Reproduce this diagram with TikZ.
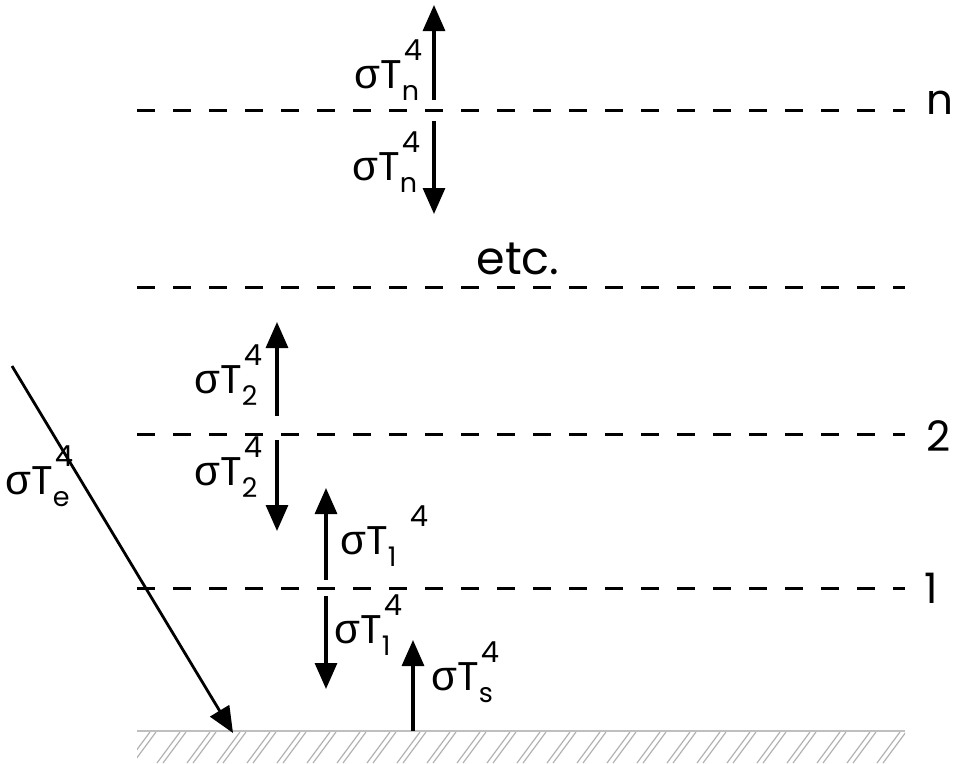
\documentclass[tikz,border=0pt]{standalone}
\usepackage{fontspec}
\setmainfont{Poppins}
\newfontfamily\greekfont{Liberation Sans}
\usetikzlibrary{arrows.meta,positioning}
\tikzset{
	layer/.style={draw=black, line width=3pt, dash pattern=on 18pt off 18pt},
	flux/.style={draw=black, line width=3.2pt, -{Triangle[width=22pt,length=26pt]}},
	lbl/.style={font=\fontsize{40}{44}\selectfont, inner sep=0pt},
	ground/.style={draw=black!25, line width=1.5pt},
	hatch/.style={draw=black!30, line width=1.2pt},
}
% sigma T_sub^4, optional shift of the 4
\newcommand{\sT}[2][2pt]{{\greekfont\fontsize{42}{44}\selectfont σ}T\makebox[0pt][l]{\raisebox{-0.3em}{\fontsize{27}{27}\selectfont #2}}\kern#1\raisebox{0.68em}{\fontsize{29}{29}\selectfont 4}}

\begin{document}
\begin{tikzpicture}[x=1pt,y=-1pt]
\useasboundingbox (0,0) rectangle (953,763);

% layers
\coordinate (nL) at (137,110);  \coordinate (nR) at (905,110);
\coordinate (eL) at (137,287);  \coordinate (eR) at (905,287);
\coordinate (tL) at (137,434);  \coordinate (tR) at (905,434);
\coordinate (oL) at (137,588);  \coordinate (oR) at (905,588);
\coordinate (gL) at (137,731);  \coordinate (gR) at (905,731);
\draw[layer] (nL) -- (nR);
\draw[layer] (eL) -- (eR);
\draw[layer] (tL) -- (tR);
\draw[layer] (oL) -- (oR);
\node[lbl,font=\fontsize{42}{44}\selectfont] (nlab) at (940,103) {n};
\node[lbl,font=\fontsize{42}{44}\selectfont] (tlab) at (939,436) {2};
\node[lbl,font=\fontsize{42}{44}\selectfont] (olab) at (931,588) {1};
\node[lbl,font=\fontsize{46}{48}\selectfont] (etc) at (518,259) {etc.};

% ground
\draw[ground] (gL) -- (gR);
\begin{scope}
\clip (137,732) rectangle (905,763);
\foreach \x in {150,180,...,930}{
	\draw[hatch] (\x,732) -- (\x-23,763);
	\draw[hatch] (\x+6,732) -- (\x-17,763);
}
\end{scope}

% fluxes
\coordinate (nupA) at (434,100);  \coordinate (nupB) at (434,5);
\coordinate (ndnA) at (434,121);  \coordinate (ndnB) at (434,214);
\coordinate (tupA) at (277,416);  \coordinate (tupB) at (277,322);
\coordinate (tdnA) at (277,440);  \coordinate (tdnB) at (277,531);
\coordinate (oupA) at (326,580);  \coordinate (oupB) at (326,488);
\coordinate (odnA) at (326,596);  \coordinate (odnB) at (326,689);
\coordinate (sA) at (413,731);    \coordinate (sB) at (413,640);
\coordinate (eA) at (12,366);     \coordinate (eB) at (233,733);
\draw[flux] (nupA) -- (nupB);
\draw[flux] (ndnA) -- (ndnB);
\draw[flux] (tupA) -- (tupB);
\draw[flux] (tdnA) -- (tdnB);
\draw[flux] (oupA) -- (oupB);
\draw[flux] (odnA) -- (odnB);
\draw[flux] (sA) -- (sB);
\draw[flux,line width=2.8pt] (eA) -- (eB);

\node[lbl,anchor=base west] (nupT) at (354,88) {\sT{n}};
\node[lbl,anchor=base west] (ndnT) at (352,180) {\sT{n}};
\node[lbl,anchor=base west] (tupT) at (194,393) {\sT{2}};
\node[lbl,anchor=base west] (tdnT) at (194,485) {\sT{2}};
\node[lbl,anchor=base west] (oupT) at (340,554) {\sT[22pt]{1}};
\node[lbl,anchor=base west] (odnT) at (334,643) {\sT{1}};
\node[lbl,anchor=base west] (sT) at (431,690) {\sT{s}};
\node[lbl,anchor=base west] (eT) at (5,494) {\sT{e}};
\end{tikzpicture}
\end{document}
